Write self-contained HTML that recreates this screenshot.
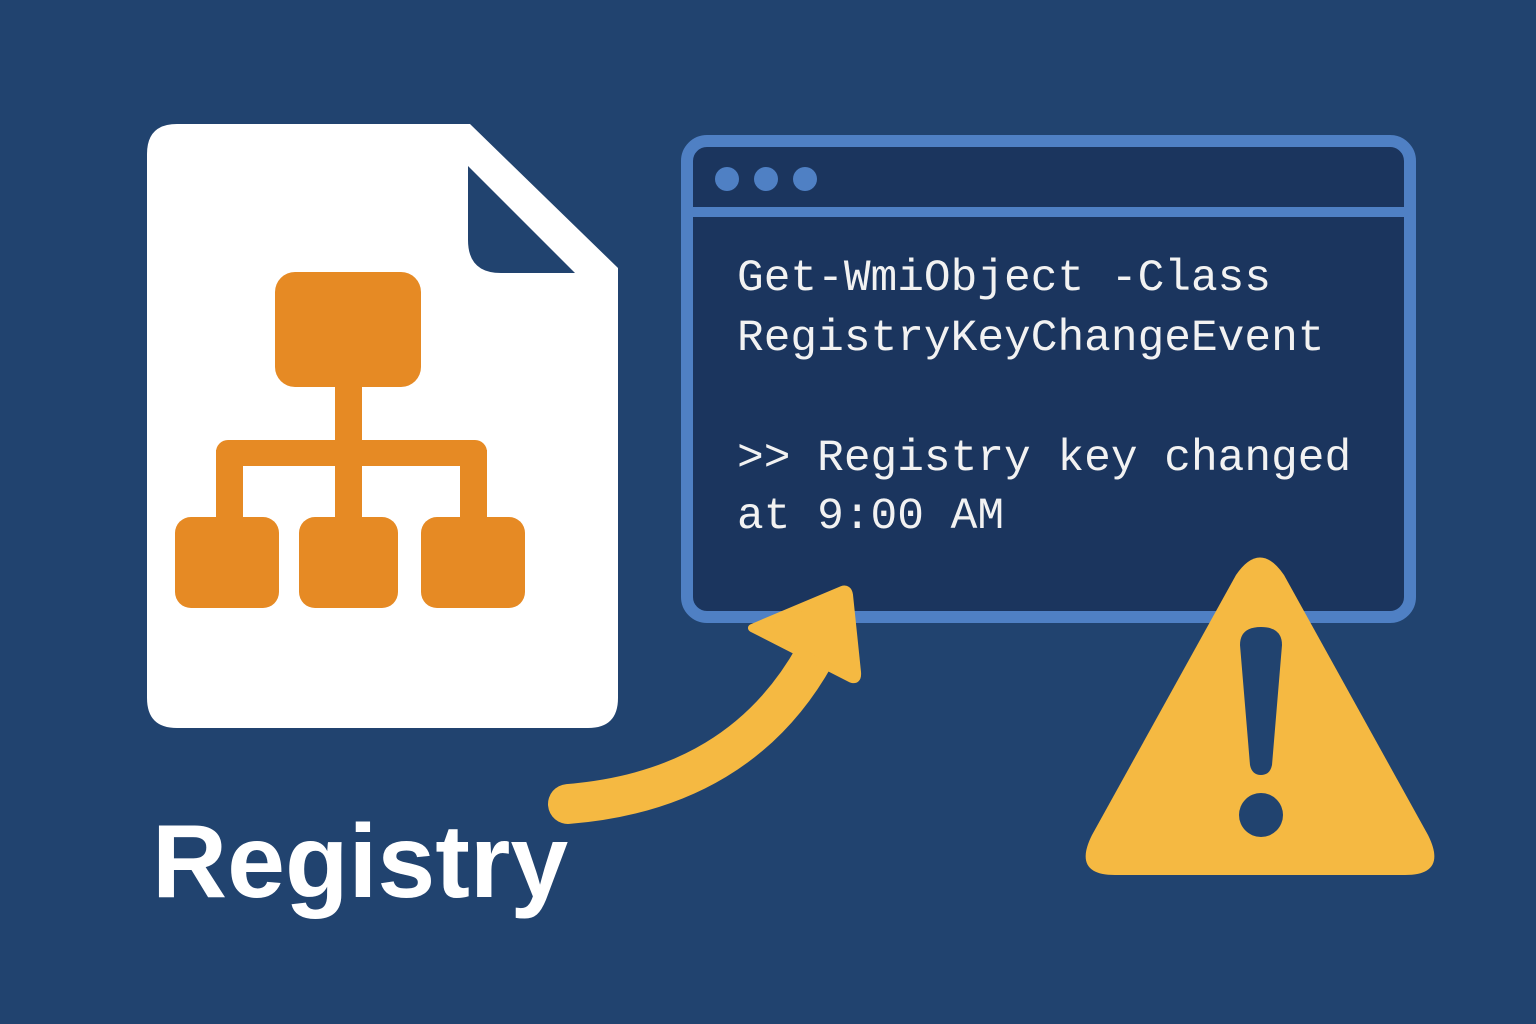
<!DOCTYPE html>
<html><head><meta charset="utf-8">
<style>
html,body{margin:0;padding:0;background:#21436f;}
svg{display:block}
</style></head>
<body>
<svg width="1536" height="1024" viewBox="0 0 1536 1024" xmlns="http://www.w3.org/2000/svg">
<rect width="1536" height="1024" fill="#21436f"/>
<!-- document -->
<path d="M177,124 L470,124 L618,268 L618,698 Q618,728 588,728 L177,728 Q147,728 147,698 L147,154 Q147,124 177,124 Z" fill="#ffffff"/>
<path d="M468,166 L468,240 Q468,273 501,273 L575,273 Z" fill="#21436f"/>
<!-- tree -->
<g fill="#e68a24">
<rect x="275" y="272" width="146" height="115" rx="20"/>
<rect x="335" y="380" width="27" height="70"/>
<rect x="216" y="440" width="271" height="26" rx="12"/>
<rect x="216" y="450" width="27" height="75"/>
<rect x="335" y="450" width="27" height="75"/>
<rect x="460" y="450" width="27" height="75"/>
<rect x="175" y="517" width="104" height="91" rx="16"/>
<rect x="299" y="517" width="99" height="91" rx="16"/>
<rect x="421" y="517" width="104" height="91" rx="16"/>
</g>
<!-- terminal -->
<rect x="687" y="141" width="723" height="476" rx="20" fill="#1b355e" stroke="#4f80c4" stroke-width="12"/>
<rect x="693" y="207" width="711" height="10" fill="#4f80c4"/>
<circle cx="727" cy="179" r="12" fill="#4f80c4"/>
<circle cx="766" cy="179" r="12" fill="#4f80c4"/>
<circle cx="805" cy="179" r="12" fill="#4f80c4"/>
<g font-family="'Liberation Mono', 'DejaVu Sans Mono', monospace" font-size="44.5" fill="#f2f2f2">
<text x="737" y="290">Get-WmiObject -Class</text>
<text x="737" y="350">RegistryKeyChangeEvent</text>
<text x="737" y="470">&gt;&gt; Registry key changed</text>
<text x="737" y="528">at 9:00 AM</text>
</g>
<!-- arrow -->
<path d="M568,804 Q740,790 815,655" fill="none" stroke="#f5b942" stroke-width="40" stroke-linecap="round"/>
<path d="M752,628 L842,590 Q848,588 849,595 L857,672 Q858,682 850,678 Z" fill="#f5b942" stroke="#f5b942" stroke-width="8" stroke-linejoin="round"/>
<!-- warning -->
<path d="M1236,575 Q1260,540 1284,575 L1428,835 Q1448,875 1405,875 L1115,875 Q1072,875 1092,835 Z" fill="#f5b942"/>
<path d="M1240,645 Q1240,627 1261,627 Q1282,627 1282,645 L1272,765 Q1270,775 1261,775 Q1252,775 1250,765 Z" fill="#21436f"/>
<circle cx="1261" cy="815" r="22" fill="#21436f"/>
<!-- label -->
<text x="152" y="897" font-family="'Liberation Sans', 'DejaVu Sans', sans-serif" font-weight="bold" font-size="104" fill="#ffffff">Registry</text>
</svg>
</body></html>
